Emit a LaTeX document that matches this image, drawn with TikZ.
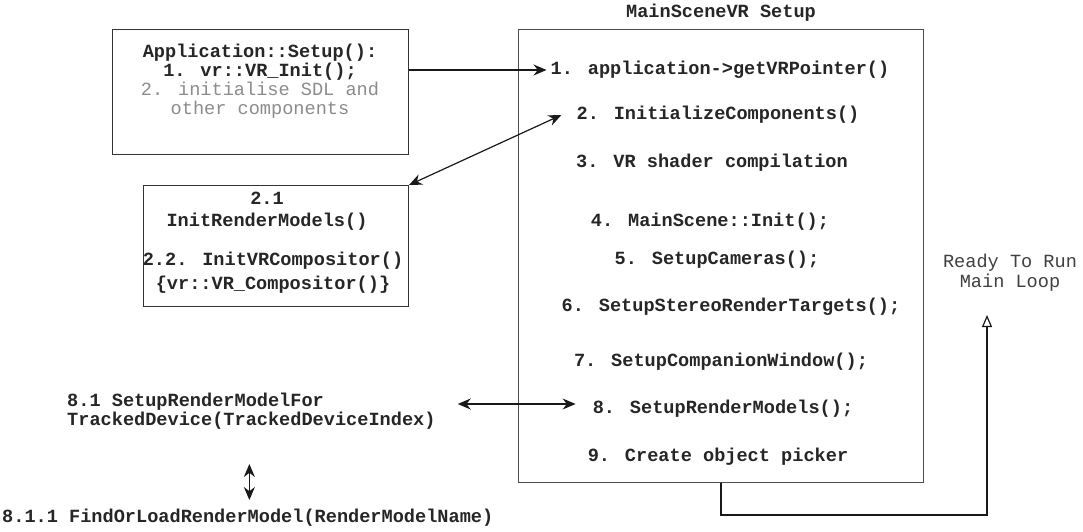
\documentclass[tikz,border=0pt]{standalone}
\usepackage{fontspec}
\newfontfamily\codefont{Liberation Mono}
\usetikzlibrary{arrows.meta}
\begin{document}
\begin{tikzpicture}[x=1pt,y=-1pt,
  code/.style={font=\codefont\bfseries\fontsize{18.6}{18.6}\selectfont, inner sep=2pt, align=center, text=black!85},
  plaincode/.style={font=\codefont\fontsize{18.6}{19.5}\selectfont, inner sep=2pt, align=center},
  boxline/.style={draw=black!80, line width=1pt, rectangle, anchor=north west, inner sep=0pt},
  conn/.style={line width=1.2pt, black!90},
  tip/.style={-{Stealth[length=13pt,width=11pt]}},
  dtip/.style={{Stealth[length=13pt,width=11pt]}-{Stealth[length=13pt,width=11pt]}}
]
\fill[white] (0,0) rectangle (1083,532);
\useasboundingbox (0,0) rectangle (1083,532);

% boxes
\node[boxline, minimum width=296pt, minimum height=125pt] (boxA) at (112,29) {};
\node[boxline, minimum width=265pt, minimum height=121pt] (boxB) at (143,185) {};
\node[boxline, minimum width=405pt, minimum height=453pt, draw=black!70] (mainbox) at (518,29) {};

% box A text
\node[code] (aTitle) at (260,53) {Application::Setup():};
\node[code] (aOne) at (260,72) {1. vr::VR\_Init();};
\node[plaincode, text=black!45, font=\codefont\fontsize{18.6}{18.6}\selectfont] (aTwo) at (260,100) {2. initialise SDL and\\other components};

% box B text
\node[code, font=\codefont\bfseries\fontsize{18.6}{22}\selectfont] (bOne) at (267,211) {2.1\\InitRenderModels()};
\node[code, font=\codefont\bfseries\fontsize{18.6}{24}\selectfont] (bTwo) at (273,273) {2.2. InitVRCompositor()\\\{vr::VR\_Compositor()\}};

% main box title and steps
\node[code] (title) at (721,13) {MainSceneVR Setup};
\node[code] (t1) at (720,70) {1. application->getVRPointer()};
\node[code] (t2) at (718,115) {2. InitializeComponents()};
\node[code] (t3) at (712,163) {3. VR shader compilation};
\node[code] (t4) at (710,222) {4. MainScene::Init();};
\node[code] (t5) at (717,260) {5. SetupCameras();};
\node[code] (t6) at (731,307) {6. SetupStereoRenderTargets();};
\node[code] (t7) at (721,362) {7. SetupCompanionWindow();};
\node[code] (t8) at (723,409) {8. SetupRenderModels();};
\node[code] (t9) at (718,457) {9. Create object picker};

% left lower texts
\node[code, align=left, anchor=west] (t81) at (65,411) {8.1 SetupRenderModelFor\\TrackedDevice(TrackedDeviceIndex)};
\node[code, anchor=west] (t811) at (0,518) {8.1.1 FindOrLoadRenderModel(RenderModelName)};

% ready text
\node[plaincode, font=\codefont\fontsize{18.6}{20}\selectfont, text=black!75] (ready) at (1010,273) {Ready To Run\\Main Loop};
\coordinate (readytip) at (987,315);

% connectors
\draw[conn, tip] (boxA.east |- t1.west) -- ([xshift=-2pt]t1.west);
\draw[conn, dtip] (boxB.north east) -- ([xshift=-13pt]t2.west);
\draw[conn, dtip] ([xshift=20pt,yshift=5pt]t81.east |- t8.west) -- ([xshift=-15pt,yshift=5pt]t8.west);
\draw[conn, dtip] ([xshift=-2pt]t81.south |- 0,464) -- ([xshift=-2pt]t81.south |- 0,500);
\draw[conn, -{Triangle[open,length=12pt,width=10pt]}] (mainbox.south) -- ++(0,32) -| (readytip);
\end{tikzpicture}
\end{document}
